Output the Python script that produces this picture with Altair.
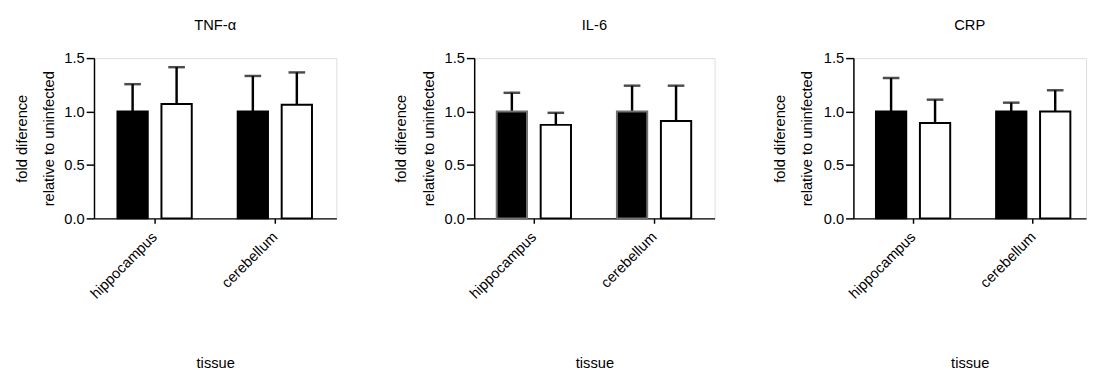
import altair as alt
import pandas as pd

tissues = ["hippocampus", "cerebellum"]
groups = ["control", "infected"]
panel_titles = ["TNF-\u03b1", "IL-6", "CRP"]

# mean fold difference, ordered hippocampus-control, hippocampus-infected, cerebellum-control, cerebellum-infected
tnf_mean = [1.00, 1.07, 1.00, 1.064]
tnf_sem = [0.256, 0.345, 0.333, 0.302]
il6_mean = [1.00, 0.875, 1.00, 0.912]
il6_sem = [0.175, 0.113, 0.242, 0.330]
crp_mean = [1.00, 0.893, 1.00, 1.00]
crp_sem = [0.313, 0.218, 0.083, 0.199]

y_ticks = [0.0, 0.5, 1.0, 1.5]
y_title = ["fold diference", "relative to uninfected"]
x_title = "tissue"

FONT = "Arial, Liberation Sans, sans-serif"
H = 164


def make_df(means, sems):
    rows = []
    i = 0
    for t in tissues:
        for g in groups:
            rows.append({"tissue": t, "group": g, "mean": means[i],
                         "upper": means[i] + sems[i]})
            i += 1
    return pd.DataFrame(rows)


def panel(title, means, sems, width, pad_outer, align, title_x, black_stroke):
    df = make_df(means, sems)
    base = alt.Chart(df)
    x = alt.X("tissue:N", sort=tissues,
              scale=alt.Scale(paddingInner=0.382, paddingOuter=pad_outer, align=align),
              axis=alt.Axis(title=x_title, labelAngle=-45, labelAlign="right",
                            labelBaseline="middle", tickSize=5, tickWidth=1.5,
                            domainWidth=1.5, labelPadding=11, titleY=153,
                            titleBaseline="alphabetic", labelFontSize=15,
                            titleFontSize=15, titleFontWeight="normal",
                            labelColor="black", titleColor="black",
                            domainColor="black", tickColor="black"))
    xo = alt.XOffset("group:N", sort=groups,
                     scale=alt.Scale(paddingInner=0.311, paddingOuter=0))
    y = alt.Y("mean:Q", scale=alt.Scale(domain=[0, 1.5], nice=False, zero=True),
              axis=alt.Axis(values=y_ticks, format=".1f", tickSize=8, tickWidth=1.5,
                            domainWidth=1.5, labelPadding=2, grid=False,
                            labelFontSize=15, title=y_title, titleX=title_x,
                            titleY=H / 2, titleAngle=270, titleBaseline="alphabetic",
                            titleAlign="center", titleLineHeight=28,
                            titleFontSize=15, titleFontWeight="normal",
                            labelColor="black", titleColor="black",
                            domainColor="black", tickColor="black"))
    rule = base.mark_rule(strokeWidth=2.5, color="black").encode(
        x=x, xOffset=xo, y=y, y2="upper:Q")
    bar = base.mark_bar(strokeWidth=2).encode(
        x=x, xOffset=xo, y=y,
        fill=alt.Fill("group:N", scale=alt.Scale(domain=groups, range=["black", "white"]),
                      legend=None),
        stroke=alt.Stroke("group:N", scale=alt.Scale(domain=groups,
                                                     range=[black_stroke, "black"]),
                          legend=None))
    cap = base.mark_tick(size=17, thickness=2.5, color="black").encode(
        x=x, xOffset=xo, y="upper:Q")
    return alt.layer(rule, bar, cap).properties(
        width=width, height=H,
        title=alt.TitleParams(title, frame="group", anchor="middle",
                              baseline="alphabetic", offset=7, fontSize=15,
                              fontWeight="normal", color="black"))


p1 = panel(panel_titles[0], tnf_mean, tnf_sem, 248, 0.199, 0.49, -69, "black")
p2 = panel(panel_titles[1], il6_mean, il6_sem, 246, 0.191, 0.49, -70, "#707070")
p3 = panel(panel_titles[2], crp_mean, crp_sem, 238, 0.159, 0.59, -71, "black")

chart = alt.hconcat(p1, p2, p3, spacing=57).resolve_scale(
    x="independent", y="independent", fill="independent", stroke="independent",
    xOffset="independent"
).properties(
    padding={"left": 6, "top": 5, "right": 0, "bottom": 0}
).configure_view(stroke=None).configure(font=FONT)

chart.save("out.html", embed_options={"renderer": "svg", "actions": False})
